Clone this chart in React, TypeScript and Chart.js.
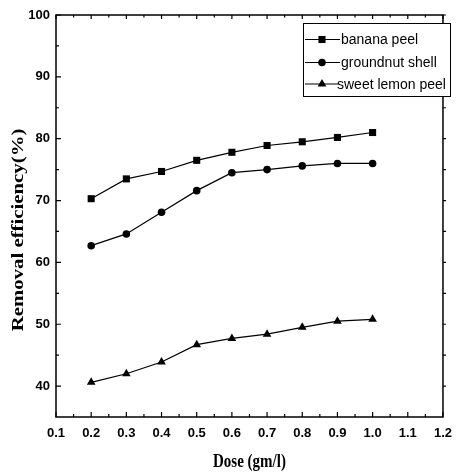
import React, { useEffect, useRef } from "react";
import { Chart, registerables } from "chart.js";

Chart.register(...registerables);

// Adsorbent dose (gm/l) and removal efficiency (%) for each adsorbent
const doses = [0.2, 0.3, 0.4, 0.5, 0.6, 0.7, 0.8, 0.9, 1.0];
const bananaPeel = [70.3, 73.5, 74.7, 76.5, 77.8, 78.9, 79.5, 80.2, 81.0];
const groundnutShell = [62.7, 64.6, 68.1, 71.6, 74.5, 75.0, 75.6, 76.0, 76.0];
const sweetLemonPeel = [40.6, 42.0, 43.9, 46.7, 47.7, 48.4, 49.5, 50.5, 50.8];

const seriesNames = ["banana peel", "groundnut shell", "sweet lemon peel"];
const markerStyles = ["rect", "circle", "triangle"] as const;
const markerRadii = [5, 3.8, 5];

const xTickLabels = [0.1, 0.2, 0.3, 0.4, 0.5, 0.6, 0.7, 0.8, 0.9, 1.0, 1.1, 1.2];
const yTickLabels = [40, 50, 60, 70, 80, 90, 100];

const xTitle = "Dose (gm/l)";
const yTitle = "Removal efficiency(%)";

const TICK_FAMILY = "'Liberation Sans Narrow', 'Arial Narrow', 'Liberation Sans', sans-serif";
const LEGEND_FONT = "14px 'Liberation Sans', Arial, sans-serif";

// Filled marker matching Chart.js point styles, for the legend samples
function drawMarker(ctx: CanvasRenderingContext2D, style: string, r: number, x: number, y: number) {
  ctx.beginPath();
  if (style === "rect") {
    const h = Math.SQRT1_2 * r;
    ctx.rect(x - h, y - h, 2 * h, 2 * h);
  } else if (style === "circle") {
    ctx.arc(x, y, r, 0, Math.PI * 2);
  } else {
    const a = Math.PI / 2;
    for (let k = 0; k < 3; k++) {
      const ang = -a + (k * 2 * Math.PI) / 3;
      const px = x + Math.cos(ang) * r;
      const py = y + Math.sin(ang) * r;
      if (k === 0) ctx.moveTo(px, py);
      else ctx.lineTo(px, py);
    }
    ctx.closePath();
  }
  ctx.fill();
}

// Frame, tick marks, axis titles and the boxed legend
const framePlugin = {
  id: "frame",
  afterDraw(chart: any) {
    const { ctx, chartArea: a, scales } = chart;
    const xs = scales.x;
    const ys = scales.y;
    ctx.save();
    ctx.strokeStyle = "#000";
    ctx.lineWidth = 1.5;
    ctx.strokeRect(a.left, a.top, a.right - a.left, a.bottom - a.top);

    ctx.lineWidth = 1.2;
    ctx.beginPath();
    // x ticks: major every 0.1, minor halfway, on bottom and top
    for (let i = 0; i < xTickLabels.length; i++) {
      const v = xTickLabels[i];
      const px = xs.getPixelForValue(v);
      ctx.moveTo(px, a.bottom);
      ctx.lineTo(px, a.bottom - 5);
      ctx.moveTo(px, a.top);
      ctx.lineTo(px, a.top + 4);
      if (i < xTickLabels.length - 1) {
        const m = xs.getPixelForValue(v + 0.05);
        ctx.moveTo(m, a.bottom);
        ctx.lineTo(m, a.bottom - 3);
        ctx.moveTo(m, a.top);
        ctx.lineTo(m, a.top + 2.5);
      }
    }
    // y ticks: major every 10, minor every 5; left inward, right outward
    for (let v = 40; v <= 100; v += 5) {
      const py = ys.getPixelForValue(v);
      const len = v % 10 === 0 ? 5 : 3;
      ctx.moveTo(a.left, py);
      ctx.lineTo(a.left + len, py);
      ctx.moveTo(a.right, py);
      ctx.lineTo(a.right + 3, py);
    }
    ctx.stroke();

    // axis titles (stretched serif bold)
    ctx.fillStyle = "#000";
    ctx.font = "bold 16px 'Liberation Serif', 'Times New Roman', serif";
    ctx.textAlign = "center";
    ctx.textBaseline = "middle";
    ctx.save();
    ctx.translate(19, (a.top + a.bottom) / 2 + 14);
    ctx.rotate(-Math.PI / 2);
    ctx.scale(1.3, 1);
    ctx.fillText(yTitle, 0, 0);
    ctx.restore();

    ctx.save();
    ctx.font = "bold 15px 'Liberation Serif', 'Times New Roman', serif";
    ctx.translate((a.left + a.right) / 2, 462);
    ctx.scale(1, 1.3);
    ctx.fillText(xTitle, 0, 0);
    ctx.restore();

    // legend box
    const bx = 303, by = 23, bw = 147, bh = 73;
    ctx.fillStyle = "#fff";
    ctx.fillRect(bx, by, bw, bh);
    ctx.lineWidth = 1;
    ctx.strokeRect(bx + 0.5, by + 0.5, bw, bh);
    const rowY = [39.5, 62.5, 84];
    const textX = [341, 341, 337];
    ctx.font = LEGEND_FONT;
    ctx.textAlign = "left";
    ctx.textBaseline = "middle";
    for (let i = 0; i < 3; i++) {
      const y = rowY[i];
      ctx.lineWidth = 1.2;
      ctx.beginPath();
      ctx.moveTo(305, y);
      ctx.lineTo(i === 2 ? 338 : 340, y);
      ctx.stroke();
      ctx.fillStyle = "#000";
      drawMarker(ctx, markerStyles[i], markerRadii[i], 322, y);
      ctx.fillText(seriesNames[i], textX[i], y + 1);
    }
    ctx.restore();
  },
};

export default function App() {
  const canvasRef = useRef<HTMLCanvasElement | null>(null);

  useEffect(() => {
    document.body.style.margin = "0";
    const canvas = canvasRef.current;
    if (!canvas) return;

    const seriesValues = [bananaPeel, groundnutShell, sweetLemonPeel];
    const datasets = seriesValues.map((vals, i) => ({
      label: seriesNames[i],
      data: doses.map((d, j) => ({ x: d, y: vals[j] })),
      borderColor: "#000",
      backgroundColor: "#000",
      borderWidth: 1.2,
      pointStyle: markerStyles[i],
      pointRadius: markerRadii[i],
      pointBorderWidth: 0,
      pointBackgroundColor: "#000",
      tension: 0,
    }));

    const chart = new Chart(canvas, {
      type: "line",
      data: { datasets },
      options: {
        animation: false,
        responsive: false,
        maintainAspectRatio: false,
        layout: { padding: { top: 15, right: 7, left: 0, bottom: 0 } },
        plugins: {
          legend: { display: false },
          tooltip: { enabled: false },
        },
        scales: {
          x: {
            type: "linear",
            min: 0.1,
            max: 1.2,
            grid: { display: false, drawTicks: false },
            border: { display: false },
            afterBuildTicks: (s: any) => {
              s.ticks = xTickLabels.map((v) => ({ value: v }));
            },
            afterFit: (s: any) => {
              s.height = 55;
            },
            ticks: {
              color: "#000",
              padding: 9,
              maxRotation: 0,
              autoSkip: false,
              font: { family: TICK_FAMILY, size: 13, weight: "bold" },
              callback: (v: any) => Number(v).toFixed(1),
            },
          },
          y: {
            type: "linear",
            min: 35,
            max: 100,
            grid: { display: false, drawTicks: false },
            border: { display: false },
            afterBuildTicks: (s: any) => {
              s.ticks = yTickLabels.map((v) => ({ value: v }));
            },
            afterFit: (s: any) => {
              s.width = 56;
            },
            ticks: {
              color: "#000",
              padding: 6,
              autoSkip: false,
              font: { family: TICK_FAMILY, size: 13, weight: "bold" },
            },
          },
        },
      },
      plugins: [framePlugin],
    });

    return () => chart.destroy();
  }, []);

  return <canvas ref={canvasRef} width={461} height={472} style={{ display: "block" }} />;
}
